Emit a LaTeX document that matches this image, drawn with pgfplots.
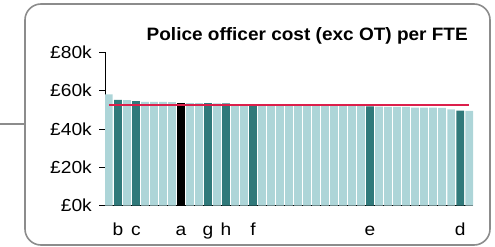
\documentclass[border=0pt]{standalone}
\usepackage{pgfplots}
\pgfplotsset{compat=1.18}
\usepackage{fontspec}
\setmainfont{Liberation Sans}
\definecolor{lightbar}{HTML}{ADD5D8}
\definecolor{darkbar}{HTML}{30797A}
\definecolor{redline}{HTML}{DC1F4B}
\definecolor{framegray}{HTML}{8C8C8C}
\begin{document}
\begin{tikzpicture}[x=1bp,y=1bp]
\useasboundingbox (0,0) rectangle (495,246);
\draw[framegray, line width=1.6bp, rounded corners=16bp] (25,1) rectangle (490,242);
\draw[framegray, line width=1.6bp] (0,122) -- (25,122);
\node[anchor=base east, inner sep=0pt, xscale=1.06, font=\fontsize{18}{21}\selectfont\bfseries] at (468,205.3) {Police officer cost (exc OT) per FTE};
\begin{axis}[
  at={(105bp,40.3bp)}, anchor=south west,
  scale only axis, width=368bp, height=153.4bp,
  xmin=-0.43, xmax=40.43, ymin=0, ymax=80,
  axis x line=bottom, axis y line=left,
  axis line style={-, black, line width=0.8bp},
  ytick={0,20,40,60,80},
  yticklabels={£0k,£20k,£40k,£60k,£80k},
  xtick={1,3,8,11,13,16,29,39},
  xticklabels={b,c,a,g,h,f,e,d},
  tick align=outside,
  major tick length=6bp,
  xtick style={draw=none},
  ytick style={black, line width=0.8bp},
  tick label style={font=\fontsize{17.5}{20}\selectfont, xscale=1.1},
  yticklabel style={xshift=-3bp},
  xticklabel style={anchor=base, yshift=-24bp},
  ybar, bar width=0.86, bar shift=0pt,
  every axis plot/.append style={draw=none},
]
\addplot[fill=lightbar, draw=none] coordinates {
(0,58.1) (2,55.1) (4,54.2) (5,54.1) (6,54.1) (7,54.0)
(9,53.5) (10,53.5) (12,53.4) (14,53.0) (15,52.9)
(17,52.7) (18,52.6) (19,52.5) (20,52.5) (21,52.4) (22,52.4) (23,52.3) (24,52.2) (25,52.1) (26,52.0) (27,51.9) (28,51.9)
(30,51.7) (31,51.6) (32,51.6) (33,51.5) (34,51.2) (35,51.2) (36,51.1) (37,51.0) (38,50.3) (40,49.5)
};
\addplot[fill=darkbar, draw=none] coordinates {
(1,55.2) (3,54.6) (11,53.5) (13,53.4) (16,52.8) (29,51.8) (39,49.6)
};
\addplot[fill=black, draw=none] coordinates {
(8,53.6)
};
\addplot[sharp plot, redline, line width=2bp, draw=redline, fill=none] coordinates {(0,52.7) (40,52.7)};
\end{axis}
\end{tikzpicture}
\end{document}
